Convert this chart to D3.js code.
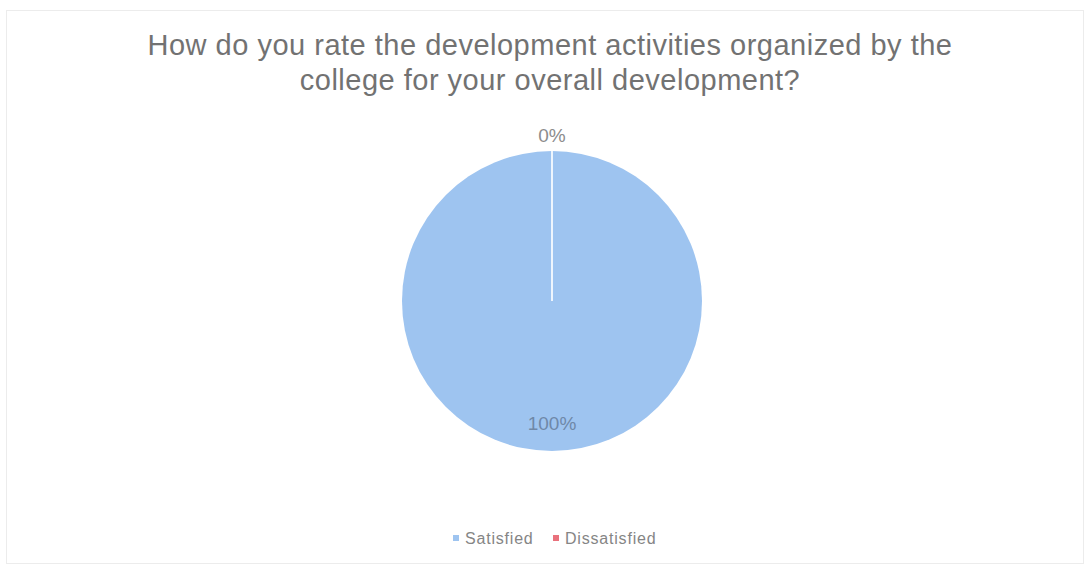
<!DOCTYPE html>
<html><head><meta charset="utf-8">
<script src="https://cdn.jsdelivr.net/npm/d3@7"></script>
<style>body{margin:0;background:#fff}svg{display:block}</style>
</head><body>
<svg id="c" width="1089" height="567"></svg>
<script>
const categories = ["Satisfied", "Dissatisfied"];
const values = [100, 0];
const labels = ["100%", "0%"];
const colors = ["#9ec4f0", "#e9717c"];
const titleLines = ["How do you rate the development activities organized by the", "college for your overall development?"];

const svg = d3.select("#c");
const W = 1089, H = 567;
const FONT = "'Liberation Sans', Arial, sans-serif";
svg.append("rect").attr("x",6.5).attr("y",10.5).attr("width",W-12).attr("height",H-14)
  .attr("fill","#fff").attr("stroke","#ececec");

svg.selectAll("text.title").data(titleLines).join("text")
  .attr("class","title")
  .attr("x", 550).attr("y",(d,i)=>55+i*35)
  .attr("text-anchor","middle").attr("font-family",FONT)
  .attr("font-size",29).attr("letter-spacing",0.5).attr("fill","#727272").text(d=>d);

const cx = 552, cy = 301, r = 150;
const pie = d3.pie().sort(null).value(d=>d)(values);
const arc = d3.arc().innerRadius(0).outerRadius(r);
const g = svg.append("g").attr("transform",`translate(${cx},${cy})`);
g.selectAll("path").data(pie).join("path")
  .attr("d",arc).attr("fill",(d,i)=>colors[i]);
// slice boundary lines
g.selectAll("line.sep").data(pie.filter(d=>d.value===0)).join("line")
  .attr("x1",0).attr("y1",0)
  .attr("x2",d=>r*Math.sin(d.startAngle)).attr("y2",d=>-r*Math.cos(d.startAngle))
  .attr("stroke","#eef5fd").attr("stroke-width",2);

// labels
g.append("text").attr("x",0).attr("y",129).attr("text-anchor","middle")
  .attr("font-family",FONT).attr("font-size",19)
  .attr("fill","#6f88a8").text(labels[0]);
g.append("text").attr("x",0).attr("y",-159).attr("text-anchor","middle")
  .attr("font-family",FONT).attr("font-size",19)
  .attr("fill","#8c8c8c").text(labels[1]);

// legend
const leg = svg.append("g").attr("font-family",FONT).attr("font-size",16).attr("letter-spacing",0.8);
const lx = [453, 553];
categories.forEach((c,i)=>{
  leg.append("rect").attr("x",lx[i]).attr("y",535).attr("width",6).attr("height",6).attr("fill",colors[i]);
  leg.append("text").attr("x",lx[i]+12).attr("y",544).attr("fill","#858585").text(c);
});
</script>
</body></html>
